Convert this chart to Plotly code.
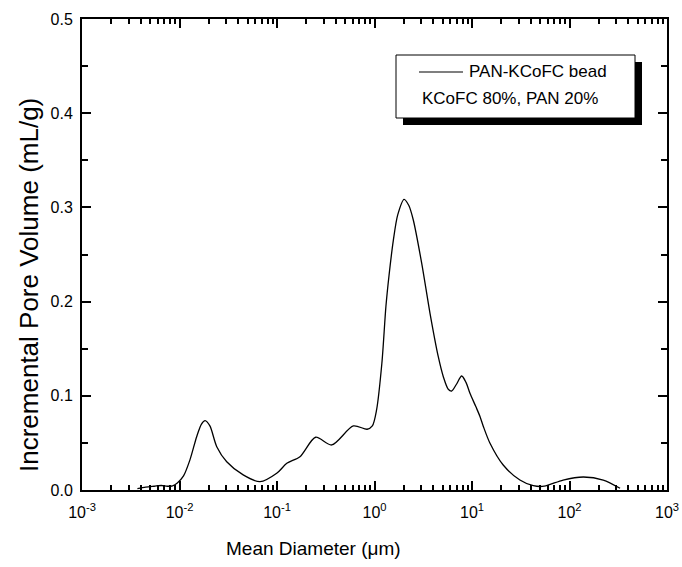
import plotly.graph_objects as go

# ---- data ----
diameter_um = [0.0037, 0.0045, 0.0055, 0.0065, 0.0075, 0.0085, 0.0095, 0.011, 0.0128,
               0.015, 0.0168, 0.0183, 0.0205, 0.0241, 0.0305, 0.045, 0.067, 0.0993,
               0.126, 0.172, 0.249, 0.364, 0.607, 0.84, 0.95, 1.05, 1.19, 1.31, 1.41,
               1.56, 1.73, 2.01, 2.25, 2.5, 3.05, 3.71, 4.51, 5.08, 5.71, 6.19, 6.9,
               7.84, 8.7, 9.53, 11.0, 12.1, 13.1, 15.3, 20.9, 31.0, 42.5, 55.0, 86.0,
               139.0, 222.0, 330.0]
pore_volume = [0.0015, 0.003, 0.004, 0.0048, 0.004, 0.0045, 0.0075, 0.015, 0.032,
               0.0566, 0.070, 0.0736, 0.068, 0.046, 0.030, 0.016, 0.0088, 0.0177,
               0.0283, 0.0354, 0.056, 0.0478, 0.068, 0.0645, 0.068, 0.085, 0.1345, 0.195,
               0.228, 0.265, 0.292, 0.3086, 0.302, 0.2866, 0.2406, 0.1876, 0.1415,
               0.1203, 0.107, 0.1051, 0.112, 0.121, 0.114, 0.1026, 0.088, 0.0778,
               0.0672, 0.0496, 0.0265, 0.0106, 0.0046, 0.004, 0.0106, 0.0138, 0.0106,
               0.0018]

x_tick_vals = [1e-3, 1e-2, 1e-1, 1e0, 1e1, 1e2, 1e3]
x_tick_text = ["10<sup>-3</sup>", "10<sup>-2</sup>", "10<sup>-1</sup>", "10<sup>0</sup>",
               "10<sup>1</sup>", "10<sup>2</sup>", "10<sup>3</sup>"]
series_name = "PAN-KCoFC bead"
legend_line2 = "KCoFC 80%, PAN 20%"
x_title = "Mean Diameter (\u03bcm)"
y_title = "Incremental Pore Volume (mL/g)"

FONT = "Liberation Sans, Arial, sans-serif"
W, H = 682, 567
L, R, T, B = 82, 15, 19, 77
PW, PH = W - L - R, H - T - B


def px_x(p):
    return (p - L) / PW


def px_y(p):
    return (H - B - p) / PH


minor_vals = [m * 10.0 ** k for k in range(-3, 3) for m in range(2, 10)]

fig = go.Figure()
fig.add_trace(go.Scatter(x=diameter_um, y=pore_volume, mode="lines", name=series_name,
                         line=dict(color="black", width=1.3, shape="spline", smoothing=0.8),
                         showlegend=False))

axis_common = dict(showgrid=False, zeroline=False, showline=True, linecolor="black",
                   linewidth=2, mirror="ticks", ticks="inside", tickcolor="black",
                   tickwidth=1.5, ticklen=9, automargin=False,
                   tickfont=dict(family=FONT, size=16, color="black"))

fig.update_xaxes(type="log", range=[-3, 3], tickmode="array", tickvals=x_tick_vals,
                 ticktext=x_tick_text, ticklabelstandoff=7,
                 minor=dict(tickmode="array", tickvals=minor_vals, ticks="inside",
                            ticklen=5, tickcolor="black", tickwidth=1.5, showgrid=False),
                 **axis_common)
fig.update_yaxes(range=[0, 0.5], tickmode="linear", tick0=0, dtick=0.1, tickformat=".1f",
                 ticklabelstandoff=4,
                 minor=dict(tickmode="linear", tick0=0, dtick=0.05, ticks="inside",
                            ticklen=6, tickcolor="black", tickwidth=1.5, showgrid=False),
                 **axis_common)

# legend box with shadow
shapes = [
    dict(type="rect", xref="paper", yref="paper", x0=px_x(403), x1=px_x(642),
         y0=px_y(125), y1=px_y(62), fillcolor="black", line=dict(width=0), layer="above"),
    dict(type="rect", xref="paper", yref="paper", x0=px_x(396), x1=px_x(635),
         y0=px_y(118), y1=px_y(55), fillcolor="white", line=dict(color="black", width=1),
         layer="above"),
    dict(type="line", xref="paper", yref="paper", x0=px_x(419), x1=px_x(463),
         y0=px_y(72), y1=px_y(72), line=dict(color="black", width=1.2), layer="above"),
]
annotations = [
    dict(text=series_name, xref="paper", yref="paper", x=px_x(467), y=px_y(72),
         xanchor="left", yanchor="middle", showarrow=False,
         font=dict(family=FONT, size=17, color="black")),
    dict(text=legend_line2, xref="paper", yref="paper", x=px_x(420), y=px_y(99),
         xanchor="left", yanchor="middle", showarrow=False,
         font=dict(family=FONT, size=17, color="black")),
    dict(text=x_title, xref="paper", yref="paper", x=px_x(313), y=px_y(548),
         xanchor="center", yanchor="middle", showarrow=False,
         font=dict(family=FONT, size=19, color="black")),
    dict(text=y_title, xref="paper", yref="paper", x=px_x(29), y=px_y(285),
         xanchor="center", yanchor="middle", showarrow=False, textangle=-90,
         font=dict(family=FONT, size=26, color="black")),
]

fig.update_layout(width=W, height=H, margin=dict(l=L, r=R, t=T, b=B, autoexpand=False),
                  paper_bgcolor="white", plot_bgcolor="white",
                  shapes=shapes, annotations=annotations, showlegend=False,
                  font=dict(family=FONT, color="black"))

fig.write_html("out.html", config={"displayModeBar": False},
               post_script="document.body.style.margin='0px';document.body.style.padding='0px';")
